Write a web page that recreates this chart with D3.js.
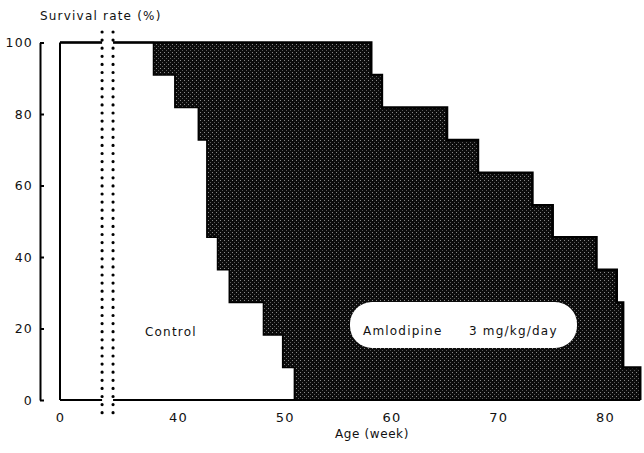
<!DOCTYPE html>
<html>
<head>
<meta charset="utf-8">
<script src="https://cdn.jsdelivr.net/npm/d3@7"></script>
<style>
  body { margin: 0; background: #fff; }
  text { font-family: "DejaVu Sans", sans-serif; font-size: 12px; letter-spacing: 1.2px; fill: #111; }
</style>
</head>
<body>
<svg id="chart"></svg>
<script>
// step points: age (week) where a death happens, survival (%) after it
var controlAge = [0, 37.7, 39.7, 41.9, 42.7, 43.7, 44.8, 48.0, 49.8, 50.9];
var controlSurv = [100, 90.9, 81.8, 72.7, 45.5, 36.4, 27.3, 18.2, 9.1, 0];

var amloAge = [0, 58.1, 59.1, 65.2, 68.1, 73.2, 75.1, 79.2, 81.1, 81.7, 83.3];
var amloSurv = [100, 90.9, 81.8, 72.7, 63.6, 54.5, 45.5, 36.4, 27.3, 9.1, 0];

var xTicks = [0, 40, 50, 60, 70, 80];
var yTicks = [0, 20, 40, 60, 80, 100];
var axisBreak = [26.5, 33.4];

var width = 644, height = 453;

var svg = d3.select("#chart")
    .attr("width", width)
    .attr("height", height);

// broken x axis: 0..34 squeezed, then linear
var x = d3.scaleLinear()
    .domain([0, 34, 90])
    .range([60, 114, 178 + 50 * 10.675]);

var y = d3.scaleLinear()
    .domain([0, 100])
    .range([400, 42.5]);

var defs = svg.append("defs");
var pat = defs.append("pattern")
    .attr("id", "halftone")
    .attr("patternUnits", "userSpaceOnUse")
    .attr("width", 4)
    .attr("height", 4);
pat.append("rect").attr("width", 4).attr("height", 4).attr("fill", "#0c0c0c");
pat.append("rect").attr("x", 0).attr("y", 0).attr("width", 1).attr("height", 1).attr("fill", "#8a8a8a");
pat.append("rect").attr("x", 2).attr("y", 2).attr("width", 1).attr("height", 1).attr("fill", "#5a5a5a");

var zip = function(a, b) {
    return a.map(function(d, i) { return [d, b[i]]; });
};
var amlo = zip(amloAge, amloSurv);
var control = zip(controlAge, controlSurv);

var area = d3.area()
    .curve(d3.curveStepAfter)
    .x(function(d) { return x(d[0]); })
    .y0(y(0))
    .y1(function(d) { return y(d[1]); });

var line = d3.line()
    .curve(d3.curveStepAfter)
    .x(function(d) { return x(d[0]); })
    .y(function(d) { return y(d[1]); });

// amlodipine survival (dark) then control on top (white)
svg.append("path")
    .datum(amlo)
    .attr("d", area)
    .attr("fill", "url(#halftone)");

svg.append("path")
    .datum(control)
    .attr("d", area)
    .attr("fill", "#fff");

svg.append("path")
    .datum(amlo)
    .attr("d", line)
    .attr("fill", "none")
    .attr("stroke", "#000")
    .attr("stroke-width", 2.5);

svg.append("path")
    .datum(control)
    .attr("d", line)
    .attr("fill", "none")
    .attr("stroke", "#000")
    .attr("stroke-width", 1.5);

// frame: left edge at week 0 and baseline
svg.append("line")
    .attr("x1", x(0)).attr("x2", x(0))
    .attr("y1", y(100)).attr("y2", y(0))
    .attr("stroke", "#000").attr("stroke-width", 2);

svg.append("line")
    .attr("x1", x(0)).attr("x2", x(83.3))
    .attr("y1", y(0)).attr("y2", y(0))
    .attr("stroke", "#000").attr("stroke-width", 2);

// axis break: white gap with two dotted columns
svg.append("rect")
    .attr("x", x(axisBreak[0]))
    .attr("y", 30)
    .attr("width", x(axisBreak[1]) - x(axisBreak[0]))
    .attr("height", 385)
    .attr("fill", "#fff");

svg.selectAll(".brk")
    .data(axisBreak)
    .enter().append("line")
    .attr("class", "brk")
    .attr("x1", function(d) { return x(d); })
    .attr("x2", function(d) { return x(d); })
    .attr("y1", 32)
    .attr("y2", 413)
    .attr("stroke", "#000")
    .attr("stroke-width", 3.2)
    .attr("stroke-linecap", "round")
    .attr("stroke-dasharray", "0 8.1");

// y axis
var yAxis = svg.append("g")
    .attr("transform", "translate(40,0)")
    .call(d3.axisLeft(y).tickValues(yTicks).tickSizeInner(-4).tickSizeOuter(0).tickPadding(7));
yAxis.select(".domain").attr("stroke", "#000").attr("stroke-width", 2);
yAxis.selectAll(".tick line").attr("stroke", "#000").attr("stroke-width", 2);
yAxis.selectAll("text").style("font-size", "12.5px").attr("fill", "#111");

// x axis, labels only
var xAxis = svg.append("g")
    .attr("transform", "translate(0,400)")
    .call(d3.axisBottom(x).tickValues(xTicks).tickSize(0).tickPadding(13));
xAxis.select(".domain").remove();
xAxis.selectAll("text").style("font-size", "13px").attr("fill", "#111");

svg.append("text")
    .attr("x", 40)
    .attr("y", 20)
    .text("Survival rate (%)");

svg.append("text")
    .attr("x", 372)
    .attr("y", 438)
    .attr("text-anchor", "middle")
    .style("letter-spacing", "0.6px")
    .text("Age (week)");

svg.append("text")
    .attr("x", 145)
    .attr("y", 336)
    .text("Control");

// label for amlodipine sits on a white blob
svg.append("rect")
    .attr("x", 350)
    .attr("y", 302)
    .attr("width", 227)
    .attr("height", 46)
    .attr("rx", 22)
    .attr("fill", "#fff");

svg.append("text")
    .attr("x", 363)
    .attr("y", 335)
    .text("Amlodipine");

svg.append("text")
    .attr("x", 469)
    .attr("y", 335)
    .text("3 mg/kg/day");
</script>
</body>
</html>
